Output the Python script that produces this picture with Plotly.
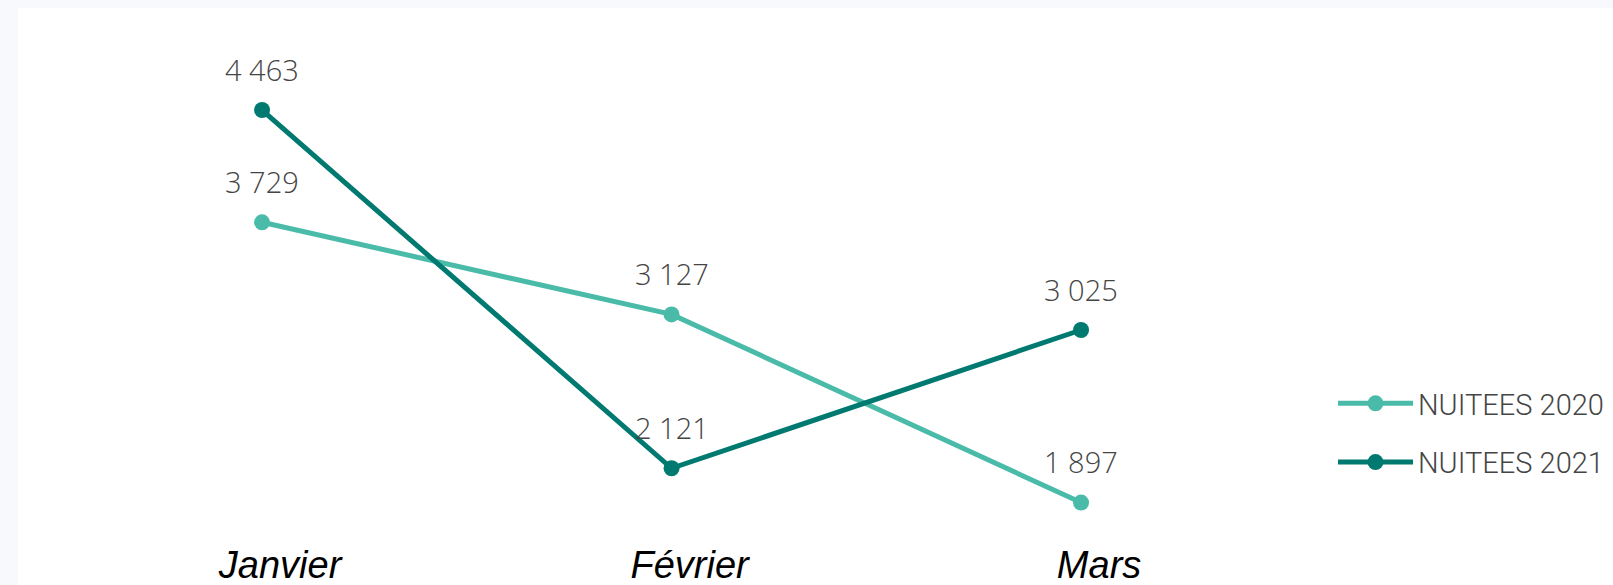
import plotly.graph_objects as go

months = ["Janvier", "Février", "Mars"]
nuitees_2020 = [3729, 3127, 1897]
nuitees_2021 = [4463, 2121, 3025]
labels_2020 = ["3 729", "3 127", "1 897"]
labels_2021 = ["4 463", "2 121", "3 025"]

C2020 = "#4bbba9"
C2021 = "#007a71"
TXT = "#454545"
W, H = 1613, 585
L, T = 18, 8

fig = go.Figure()
fig.add_trace(go.Scatter(x=months, y=nuitees_2020, mode="lines+markers", name="NUITEES 2020",
                         legendgroup="a",
                         line=dict(color=C2020, width=5), marker=dict(size=16, color=C2020)))
fig.add_trace(go.Scatter(x=months, y=nuitees_2021, mode="lines+markers", name="NUITEES 2021",
                         legendgroup="b",
                         line=dict(color=C2021, width=5), marker=dict(size=16, color=C2021)))

for xs, ys, ls in ((months, nuitees_2020, labels_2020), (months, nuitees_2021, labels_2021)):
    for x, y, t in zip(xs, ys, ls):
        fig.add_annotation(x=x, y=y, text=t, showarrow=False, yshift=41,
                           yanchor="middle", xanchor="center",
                           font=dict(family="Open Sans, sans-serif", size=29, color=TXT, weight=300))

pw = W - L
ph = H - T
fig.update_layout(
    width=W, height=H,
    margin=dict(l=L, r=0, t=T, b=0, pad=0, autoexpand=False),
    paper_bgcolor="#f7f9fc",
    plot_bgcolor="#ffffff",
    showlegend=True,
    legend=dict(x=(1333 - L) / pw, y=(H - 378) / ph, xanchor="left", yanchor="top",
                font=dict(family="Roboto, sans-serif", size=29, color=TXT, weight=300),
                bgcolor="rgba(0,0,0,0)", tracegroupgap=18, itemwidth=75),
    xaxis=dict(type="category", range=[-0.596, 3.299], showgrid=False, zeroline=False,
               showline=False, ticks="", ticklabelposition="inside", ticklabelstandoff=-4,
               ticklabelshift=18,
               tickfont=dict(family="Liberation Sans, Arial, sans-serif", size=38,
                             color="#000000", style="italic")),
    yaxis=dict(range=[1358, 5130], showgrid=False, zeroline=False, showline=False,
               showticklabels=False, ticks=""),
)

fig.write_html("out.html", config={"displayModeBar": False},
               post_script="document.body.style.margin='0px';")
